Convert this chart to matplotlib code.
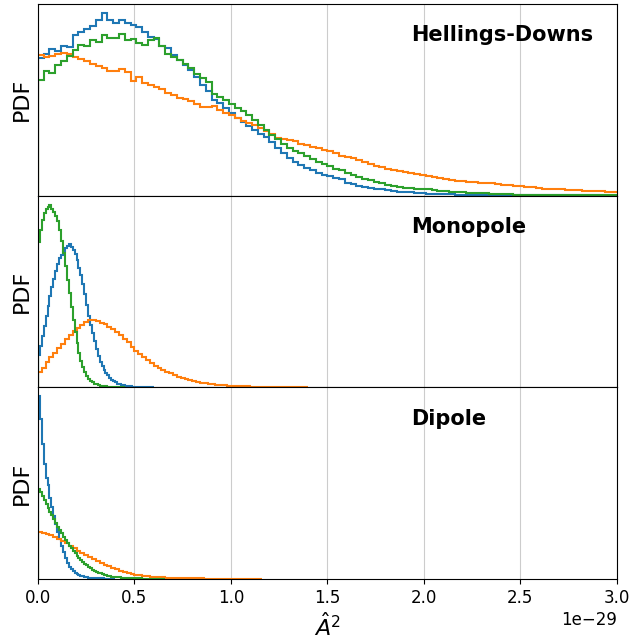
import numpy as np
import matplotlib
matplotlib.use("Agg")
import matplotlib.pyplot as plt

# bin heights (arbitrary PDF units), x in units of 1e-29
hd_width = 0.03
hd_blue = [137, 141, 146, 144, 149, 148, 160, 163, 166, 169, 175, 182, 175, 172, 175, 172, 170, 168, 163, 158,
           156, 149, 147, 140, 135, 130, 125, 118, 110, 104, 95, 92, 87, 82, 77, 73, 69, 65, 61, 58,
           53, 47, 42, 37, 33, 30, 27, 25, 22, 20.5, 19, 17.5, 16, 12.5, 11, 9.5, 8.5, 7.5, 6.5, 6,
           5.2, 4.5, 3.8, 3.3, 3, 2.5, 2.2, 1.9, 1.6, 1.4, 1.2, 1.1, 1.0, 0.9, 0.8, 0.7, 0.6, 0.5, 0.45, 0.4,
           0.35, 0.3, 0.25, 0.2, 0.18, 0.15, 0.12, 0.1, 0.08, 0.06, 0.05, 0.04, 0.03, 0.02, 0.02, 0.01, 0.01, 0, 0, 0]
hd_orange = [140, 138, 139, 141, 142, 141, 138, 136, 134, 131, 129, 127, 124, 124, 126, 123, 114, 118, 112, 110,
             108, 106, 102, 100, 97, 96, 94, 91, 88, 88, 89, 85, 82, 80, 77, 74, 72, 70, 67, 64,
             61, 57, 56, 55.5, 54, 51, 50, 48, 47, 45, 44, 42, 39, 38, 37, 35, 33, 31, 29.5, 28,
             26, 25.5, 24.5, 23.5, 22, 21, 20, 19.5, 18, 17, 16, 15.5, 14.5, 14, 13.5, 13.5, 12.5, 12, 12, 11,
             10.5, 10, 9.5, 9, 8.5, 8, 7.5, 6.5, 6.2, 6.5, 6, 5.5, 5.2, 5, 4.8, 4.5, 4.2, 4, 3.7, 3.3,
             3.2, 3.0, 2.8]
hd_green = [115, 124, 122, 130, 134, 139, 145, 150, 149, 155, 153, 160, 157, 157, 161, 155, 156, 152, 150, 155,
            157, 149, 141, 138, 135, 131, 127, 121, 117, 113, 101, 98, 95, 91, 87, 84, 80, 75, 70, 65,
            60, 56, 51, 47, 44, 42, 39, 36, 33, 31, 29, 26.5, 25, 22, 20.5, 18, 16.5, 15, 13.5, 12.5,
            10.5, 9.5, 8.5, 7.5, 7, 6.5, 6.2, 6, 5, 4.5, 4, 3.5, 3.2, 3, 2.8, 2.5, 2.2, 2.0, 1.6, 1.3,
            1.2, 1.1, 1.0, 1.0, 0.9, 0.8, 0.7, 0.6, 0.6, 0.5, 0.5, 0.4, 0.4, 0.3, 0.3, 0.2, 0.2, 0.2, 0.1, 0.1]

mono_width = 0.01
mono_blue = [32, 41, 51, 61, 71, 81, 91, 100, 108, 116, 123, 129, 133, 137, 140, 142, 144, 141, 138, 134,
             127, 119, 112, 103, 93, 82, 71, 62, 54, 46, 38, 31, 25, 21, 17.5, 14.5, 12, 9.5, 7.5, 6,
             4.7, 3.6, 2.8, 2.2, 1.8, 1.4, 1.1, 0.9, 0.7, 0.6, 0.5, 0.4, 0.3, 0.25, 0.2, 0.15, 0.12, 0.1, 0.08, 0.05]
mono_green = [146, 158, 168, 175, 179, 181, 183, 179, 176, 172, 167, 158, 147, 135, 121, 107, 94, 80, 67, 55,
              44, 34, 26, 20, 15, 11.5, 8.5, 6.3, 4.8, 3.6, 2.7, 2.1, 1.6, 1.3, 1.0, 0.8, 0.6, 0.5, 0.4, 0.3,
              0.2, 0.15, 0.1, 0.08, 0.05]
mono_orange_width = 0.02
mono_orange = [15, 19, 25, 30, 34, 39, 43, 48, 52, 56, 59, 62, 65, 67, 67, 66, 64, 63, 60, 58,
               55, 52, 48, 45, 40, 36, 33, 30, 27, 24, 21.5, 19.5, 17.5, 15.5, 14, 12, 10.5, 9, 8, 7,
               5.8, 5, 4.3, 3.7, 3.2, 2.7, 2.3, 2, 1.7, 1.5, 1.3, 1.1, 0.9, 0.8, 0.7, 0.6, 0.5, 0.4, 0.35, 0.3,
               0.25, 0.2, 0.15, 0.12, 0.1, 0.08, 0.06, 0.05, 0.04, 0.03]

dip_width = 0.01
dip_blue = [183, 160, 135, 115, 101, 94, 81, 72, 63, 55, 47, 40, 33, 27, 21, 16, 12, 9.5, 7.5, 6,
            4.8, 3.8, 3, 2.5, 2, 1.6, 1.3, 1.1, 0.9, 0.8, 0.7, 0.6, 0.5, 0.4, 0.3, 0.25, 0.2, 0.15, 0.1, 0.1]
dip_green = [90, 87, 83, 79, 75, 71, 67, 64, 60, 56, 52, 49, 46, 42, 39, 36, 33, 30.5, 28, 25.5,
             23, 21, 19, 17, 15, 13.5, 12, 10.5, 9.3, 8.2, 7.2, 6.3, 5.5, 4.8, 4.1, 3.5, 3.0, 2.6, 2.3, 2.0,
             1.8, 1.6, 1.4, 1.2, 1.05, 0.9, 0.8, 0.7, 0.6, 0.55, 0.5, 0.45, 0.4, 0.35, 0.3, 0.28, 0.25, 0.22, 0.2, 0.18,
             0.15, 0.12, 0.1, 0.08, 0.06, 0.05]
dip_orange_width = 0.02
dip_orange = [47, 46, 45, 43.5, 42, 40, 38, 35.5, 33, 30.5, 28, 26, 24, 22, 20, 18, 16, 14, 12.5, 11,
              9.5, 8.2, 7, 6, 5, 4.3, 3.7, 3.1, 2.6, 2.2, 1.9, 1.6, 1.4, 1.2, 1.0, 0.9, 0.8, 0.7, 0.6, 0.5,
              0.45, 0.4, 0.35, 0.3, 0.25, 0.2, 0.18, 0.15, 0.12, 0.1, 0.1, 0.08, 0.06, 0.05, 0.04, 0.03, 0.02, 0.01]

panels = [
    ("Hellings-Downs", [(hd_blue, hd_width), (hd_orange, hd_width), (hd_green, hd_width)]),
    ("Monopole", [(mono_blue, mono_width), (mono_orange, mono_orange_width), (mono_green, mono_width)]),
    ("Dipole", [(dip_blue, dip_width), (dip_orange, dip_orange_width), (dip_green, dip_width)]),
]
colors = ["tab:blue", "tab:orange", "tab:green"]
scale = 1e-29

fig, axes = plt.subplots(3, 1, figsize=(6.32, 6.41), dpi=100, sharex=True)
fig.subplots_adjust(left=0.060, right=0.976, top=0.994, bottom=0.097, hspace=0)

for ax, (name, series) in zip(axes, panels):
    for (vals, width), c in zip(series, colors):
        vals = np.array(vals, dtype=float)
        edges = np.arange(len(vals) + 1) * width * scale
        ax.hist(edges[:-1], bins=edges, weights=vals, histtype="step", color=c, lw=1.5)
    ax.set_yticks([])
    ax.set_ylabel("PDF", fontsize=16)
    ax.grid(True, axis="x", color="#cccccc", lw=0.8)
    ax.set_axisbelow(True)
    ax.text(0.644, 0.835, name, transform=ax.transAxes, fontsize=15,
            fontweight="bold", va="center", ha="left")
    ax.tick_params(axis="x", bottom=False)

axes[-1].tick_params(axis="x", bottom=True, labelsize=12)
axes[-1].set_xlim(0, 3 * scale)
axes[-1].set_xlabel(r"$\hat{A}^2$", fontsize=16)
axes[-1].xaxis.get_offset_text().set_fontsize(12)

fig.savefig("out.png", dpi=100)
